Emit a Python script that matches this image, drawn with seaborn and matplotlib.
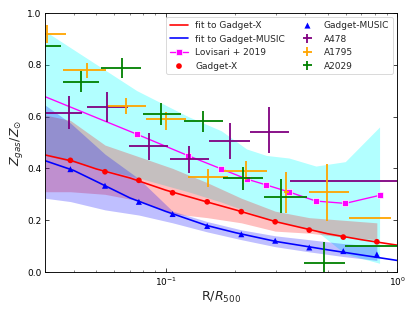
import matplotlib
matplotlib.use('Agg')
import matplotlib.pyplot as plt
import numpy as np
import seaborn as sns

# simulated profiles (points)
sim_r = [0.0387, 0.0546, 0.0765, 0.107, 0.151, 0.212, 0.297, 0.417, 0.585, 0.817]
gx_z = [0.431, 0.387, 0.354, 0.306, 0.271, 0.233, 0.194, 0.162, 0.135, 0.117]
gm_z = [0.397, 0.333, 0.271, 0.224, 0.178, 0.146, 0.121, 0.095, 0.081, 0.068]

# fits
fit_r = [0.03, 0.04, 0.05, 0.07, 0.1, 0.15, 0.2, 0.3, 0.5, 0.7, 1.0]
fit_gx = [0.452, 0.427, 0.398, 0.363, 0.316, 0.271, 0.240, 0.194, 0.148, 0.125, 0.104]
fit_gm = [0.430, 0.392, 0.350, 0.286, 0.234, 0.180, 0.152, 0.118, 0.086, 0.066, 0.045]

# scatter bands of the simulations
band_r = [0.03, 0.0387, 0.0546, 0.0765, 0.107, 0.151, 0.212, 0.297, 0.417, 0.585, 0.817]
gx_lo = [0.310, 0.310, 0.300, 0.275, 0.225, 0.210, 0.190, 0.158, 0.150, 0.135, 0.125]
gx_hi = [0.606, 0.585, 0.490, 0.445, 0.400, 0.345, 0.285, 0.235, 0.210, 0.200, 0.190]
gm_lo = [0.285, 0.272, 0.240, 0.220, 0.190, 0.155, 0.125, 0.098, 0.078, 0.060, 0.045]
gm_hi = [0.645, 0.575, 0.455, 0.360, 0.235, 0.195, 0.163, 0.140, 0.125, 0.110, 0.100]

# Lovisari + 2019 (first value is the start of the line only)
lov_r = [0.03, 0.0749, 0.1249, 0.1738, 0.2235, 0.2721, 0.341, 0.4456, 0.5966, 0.8395]
lov_z = [0.677, 0.532, 0.449, 0.398, 0.359, 0.336, 0.309, 0.274, 0.265, 0.296]
lov_lo = [0.450, 0.365, 0.310, 0.270, 0.235, 0.205, 0.185, 0.160, 0.070, 0.034]
lov_hi = [0.930, 0.700, 0.600, 0.545, 0.475, 0.450, 0.440, 0.409, 0.426, 0.560]

# clusters: centre, low, high in r and z
a478_r = [0.0380, 0.0558, 0.085, 0.1256, 0.189, 0.278, 1.05]
a478_rlo = [0.0305, 0.0456, 0.0692, 0.1038, 0.154, 0.231, 0.345]
a478_rhi = [0.0436, 0.0686, 0.102, 0.154, 0.231, 0.341, 3.0]
a478_z = [0.613, 0.636, 0.486, 0.435, 0.507, 0.542, 0.350]
a478_zlo = [0.551, 0.580, 0.432, 0.381, 0.435, 0.458, 0.350]
a478_zhi = [0.680, 0.696, 0.538, 0.486, 0.574, 0.636, 0.350]

a1795_r = [0.0308, 0.0456, 0.067, 0.1004, 0.1517, 0.222, 0.332, 0.496, 0.762]
a1795_rlo = [0.0255, 0.036, 0.0562, 0.0822, 0.1245, 0.179, 0.325, 0.417, 0.619]
a1795_rhi = [0.0372, 0.055, 0.0822, 0.1225, 0.185, 0.275, 0.340, 0.619, 0.94]
a1795_z = [0.918, 0.780, 0.641, 0.590, 0.366, 0.391, 0.307, 0.310, 0.208]
a1795_zlo = [0.883, 0.748, 0.610, 0.548, 0.329, 0.355, 0.227, 0.198, 0.208]
a1795_zhi = [0.954, 0.808, 0.671, 0.619, 0.397, 0.430, 0.387, 0.417, 0.208]

a2029_r = [0.027, 0.0428, 0.0649, 0.0958, 0.1443, 0.2163, 0.314, 0.484, 1.1]
a2029_rlo = [0.020, 0.0360, 0.0526, 0.0796, 0.120, 0.176, 0.266, 0.396, 0.593]
a2029_rhi = [0.0351, 0.0514, 0.0783, 0.1164, 0.176, 0.262, 0.409, 0.593, 2.0]
a2029_z = [0.872, 0.734, 0.786, 0.610, 0.583, 0.362, 0.291, 0.036, 0.102]
a2029_zlo = [0.840, 0.694, 0.748, 0.568, 0.541, 0.317, 0.227, -0.045, 0.070]
a2029_zhi = [0.900, 0.776, 0.825, 0.651, 0.623, 0.404, 0.358, 0.117, 0.130]

sns.set_style('ticks')
plt.rcParams.update({'xtick.direction': 'in', 'ytick.direction': 'in',
                     'xtick.top': True, 'ytick.right': True,
                     'font.family': ['DejaVu Sans']})

fig, ax = plt.subplots(figsize=(6.4, 4.8), dpi=64.84375)

ax.fill_between(lov_r, lov_lo, lov_hi, color='cyan', alpha=0.3, lw=0)
ax.fill_between(band_r, gx_lo, gx_hi, color='red', alpha=0.25, lw=0)
ax.fill_between(band_r, gm_lo, gm_hi, color='blue', alpha=0.25, lw=0)

h = {}
sns.lineplot(x=fit_r, y=fit_gx, ax=ax, color='red', lw=1.8, sort=False)
h['fx'] = ax.lines[-1]
sns.lineplot(x=fit_r, y=fit_gm, ax=ax, color='blue', lw=1.8, sort=False)
h['fm'] = ax.lines[-1]
sns.lineplot(x=lov_r, y=lov_z, ax=ax, color='magenta', lw=1.5, marker='s', ms=6,
             markevery=list(range(1, len(lov_r))), sort=False)
h['lov'] = ax.lines[-1]

for key, r, rlo, rhi, z, zlo, zhi, c in [
        ('a478', a478_r, a478_rlo, a478_rhi, a478_z, a478_zlo, a478_zhi, 'purple'),
        ('a1795', a1795_r, a1795_rlo, a1795_rhi, a1795_z, a1795_zlo, a1795_zhi, 'orange'),
        ('a2029', a2029_r, a2029_rlo, a2029_rhi, a2029_z, a2029_zlo, a2029_zhi, 'green')]:
    r, z = np.array(r), np.array(z)
    xerr = [r - np.array(rlo), np.array(rhi) - r]
    yerr = [z - np.array(zlo), np.array(zhi) - z]
    h[key] = ax.errorbar(r, z, xerr=xerr, yerr=yerr, fmt='none', ecolor=c, elinewidth=2)

sns.scatterplot(x=sim_r, y=gx_z, ax=ax, color='red', marker='o', s=40, edgecolor='none', zorder=5)
h['gx'] = ax.collections[-1]
sns.scatterplot(x=sim_r, y=gm_z, ax=ax, color='blue', marker='^', s=45, edgecolor='none', zorder=5)
h['gm'] = ax.collections[-1]

ax.set_xscale('log')
ax.set_xlim(0.03, 1.0)
ax.set_ylim(0, 1.0)
ax.set_yticks([0, 0.2, 0.4, 0.6, 0.8, 1.0])
ax.tick_params(which='major', length=4, labelsize=10, colors='black')
ax.tick_params(which='minor', length=2)
for s in ax.spines.values():
    s.set_color('black')
    s.set_linewidth(1.0)
ax.set_xlabel(r'R/$R_{500}$', fontsize=14, labelpad=2)
ax.set_ylabel(r'$Z_{gas}/Z_{\odot}$', fontsize=14, labelpad=2)

order = ['fx', 'fm', 'lov', 'gx', 'gm', 'a478', 'a1795', 'a2029']
labels = ['fit to Gadget-X', 'fit to Gadget-MUSIC', 'Lovisari + 2019', 'Gadget-X',
          'Gadget-MUSIC', 'A478', 'A1795', 'A2029']
ax.legend([h[k] for k in order], labels, ncol=2, loc='upper right', fontsize=10,
          columnspacing=1.5, handlelength=2.0)

plt.subplots_adjust(left=0.108, right=0.957, top=0.958, bottom=0.125)
plt.savefig('out.png')
